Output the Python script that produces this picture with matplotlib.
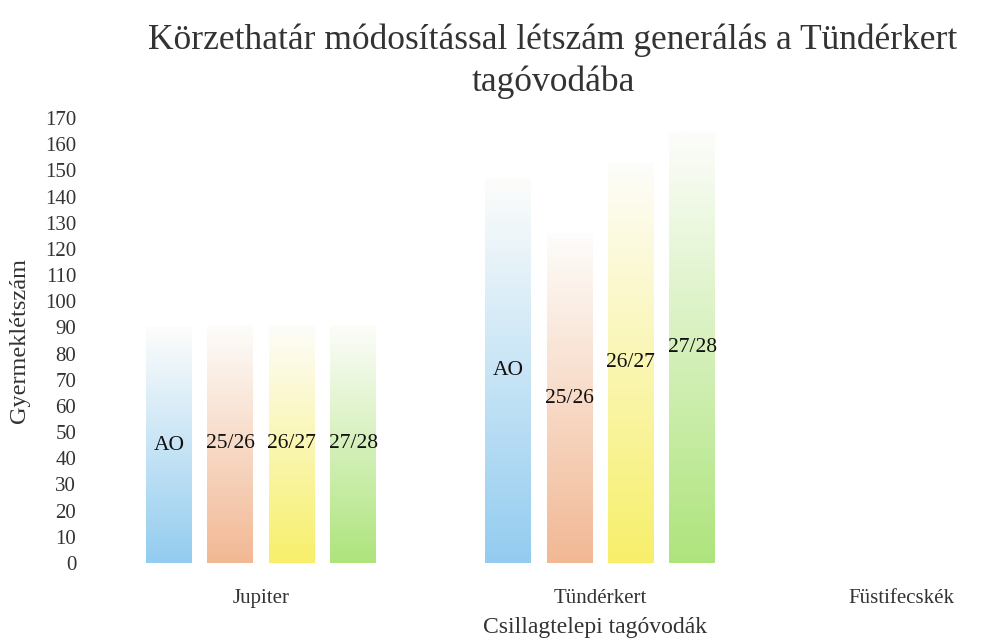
import matplotlib.pyplot as plt
import numpy as np
from matplotlib.colors import LinearSegmentedColormap
from matplotlib.transforms import ScaledTranslation

plt.rcParams['font.family'] = ['Liberation Serif', 'DejaVu Serif']

ovodak = ["Jupiter", "Tündérkert", "Füstifecskék"]
sorozatok = ["AO", "25/26", "26/27", "27/28"]
ao = [90, 147, 0]
ev_25_26 = [91, 126, 0]
ev_26_27 = [91, 153, 0]
ev_27_28 = [91, 165, 0]
szinek = ["#93ccf0", "#f2b894", "#f7ef6a", "#aee47c"]

ertekek = [ao, ev_25_26, ev_26_27, ev_27_28]

fig = plt.figure(figsize=(9.91, 6.43), dpi=100)
ax = fig.add_axes([91.5 / 991, 80 / 643, 899.5 / 991, 445 / 643])

x = np.arange(len(ovodak))
lepes = 0.181
szel = 0.135
grad = np.linspace(0, 1, 256).reshape(-1, 1)

for i, (nev, adat, szin) in enumerate(zip(sorozatok, ertekek, szinek)):
    poz = x + (i - 1.5) * lepes
    bars = ax.bar(poz, adat, width=szel, color="none", edgecolor="none")
    cmap = LinearSegmentedColormap.from_list(nev, [szin, "#fdfdfb"])
    for b, v in zip(bars, adat):
        if v <= 0:
            continue
        # fentről lefelé erősödő színátmenet
        im = ax.imshow(grad, cmap=cmap, aspect="auto", origin="lower",
                       extent=[b.get_x(), b.get_x() + b.get_width(), 0, b.get_height()],
                       zorder=1)
        im.set_clip_path(b)
        ax.text(b.get_x() + b.get_width() / 2, v / 2, nev, ha="center", va="center",
                fontsize=15.5, color="#111111", zorder=3)

ax.set_xlim(-0.5, 2.153)
ax.set_ylim(0, 170)
ax.set_yticks(range(0, 171, 10))
ax.set_xticks(x)
ax.set_xticklabels(ovodak, fontsize=15, color="#333333")
ax.tick_params(axis="both", length=0, colors="#333333")
ax.tick_params(axis="y", labelsize=15, pad=11)
ax.tick_params(axis="x", pad=19)
for s in ax.spines.values():
    s.set_visible(False)

# az utolsó felirat beljebb tolva, hogy kiférjen
utolso = ax.get_xticklabels()[-1]
utolso.set_transform(utolso.get_transform() + ScaledTranslation(-0.38, 0, fig.dpi_scale_trans))

ax.set_ylabel("Gyermeklétszám", fontsize=17.5, color="#333333")
ax.yaxis.set_label_coords(-0.068, 0.5)
ax.set_xlabel("Csillagtelepi tagóvodák", fontsize=17, color="#333333")
ax.xaxis.set_label_coords((595 - 91.5) / 899.5, -0.121)
fig.text(0.558, 0.963, "Körzethatár módosítással létszám generálás a Tündérkert\ntagóvodába",
         ha="center", va="top", fontsize=25.5, color="#333333", linespacing=1.33)

fig.savefig("out.png", dpi=100)
